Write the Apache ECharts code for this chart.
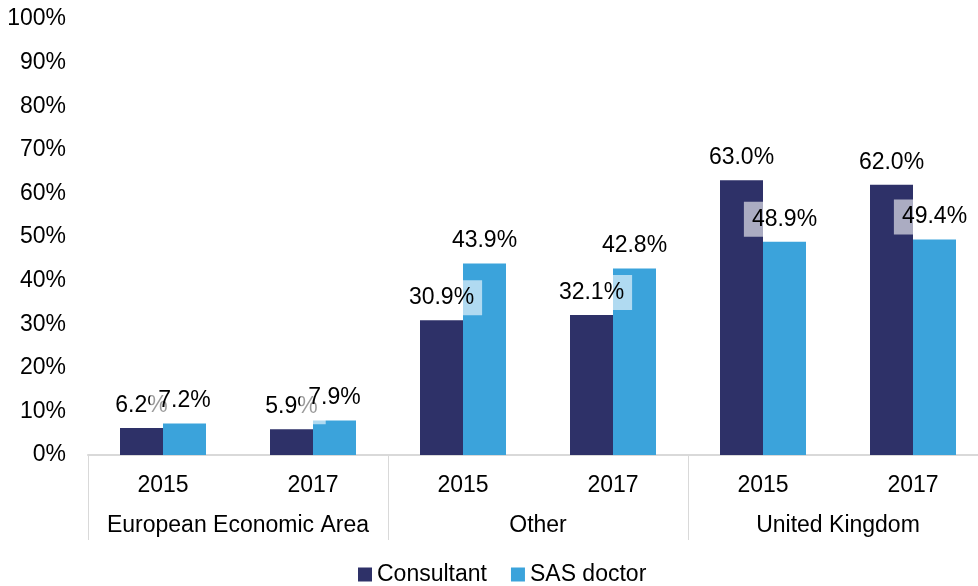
<!DOCTYPE html>
<html>
<head>
<meta charset="utf-8">
<script src="https://cdn.jsdelivr.net/npm/echarts@6/dist/echarts.min.js"></script>
<style>
  html, body { margin: 0; padding: 0; background: #fff; }
  #chart { width: 978px; height: 586px; }
</style>
</head>
<body>
<div id="chart"></div>
<script>
var years = ['2015', '2017', '2015', '2017', '2015', '2017'];
var regions = ['European Economic Area', 'Other', 'United Kingdom'];
var consultant = [6.2, 5.9, 30.9, 32.1, 63.0, 62.0];
var sasDoctor = [7.2, 7.9, 43.9, 42.8, 48.9, 49.4];

var chart = echarts.init(document.getElementById('chart'));
var font = 'Liberation Sans, Arial, sans-serif';

function labelStyle() {
  return {
    show: true,
    position: 'top',
    distance: 5,
    fontFamily: font,
    fontSize: 23,
    color: '#000',
    backgroundColor: 'rgba(255,255,255,0.6)',
    padding: [6, 8, 6, 8],
    formatter: function (p) { return p.value.toFixed(1) + '%'; }
  };
}

var options = {
  animation: false,
  color: ['#2E3168', '#3BA3DB'],
  grid: { left: 88, right: -10, top: 19, bottom: 131, containLabel: false, outerBoundsMode: 'none' },
  legend: {
    top: 558,
    left: 353,
    icon: 'rect',
    itemWidth: 14,
    itemHeight: 14,
    itemGap: 24,
    textStyle: { fontFamily: font, fontSize: 23, color: '#000' },
    data: ['Consultant', 'SAS doctor']
  },
  xAxis: [
    {
      type: 'category',
      data: years,
      position: 'bottom',
      axisLine: { lineStyle: { color: '#D9D9D9', width: 2 } },
      axisTick: { show: false },
      axisLabel: { interval: 0, fontFamily: font, fontSize: 23, color: '#000', margin: 19 }
    },
    {
      type: 'category',
      data: regions,
      position: 'bottom',
      axisLine: { show: false },
      axisTick: { show: true, interval: 0, length: 85, lineStyle: { color: '#D9D9D9', width: 1 } },
      axisLabel: { interval: 0, fontFamily: font, fontSize: 23, color: '#000', margin: 59 }
    }
  ],
  yAxis: {
    type: 'value',
    min: 0,
    max: 100,
    interval: 10,
    axisLine: { show: false },
    axisTick: { show: false },
    splitLine: { show: false },
    axisLabel: { fontFamily: font, fontSize: 23, color: '#000', margin: 22, formatter: '{value}%' }
  },
  series: [
    {
      name: 'Consultant',
      type: 'bar',
      xAxisIndex: 0,
      barWidth: 43,
      barGap: '0%',
      data: consultant,
      label: labelStyle()
    },
    {
      name: 'SAS doctor',
      type: 'bar',
      xAxisIndex: 0,
      barWidth: 43,
      barGap: '0%',
      data: sasDoctor,
      label: labelStyle()
    }
  ]
};
chart.setOption(options);
window.addEventListener('resize', function () { chart.resize(); });
</script>
</body>
</html>
